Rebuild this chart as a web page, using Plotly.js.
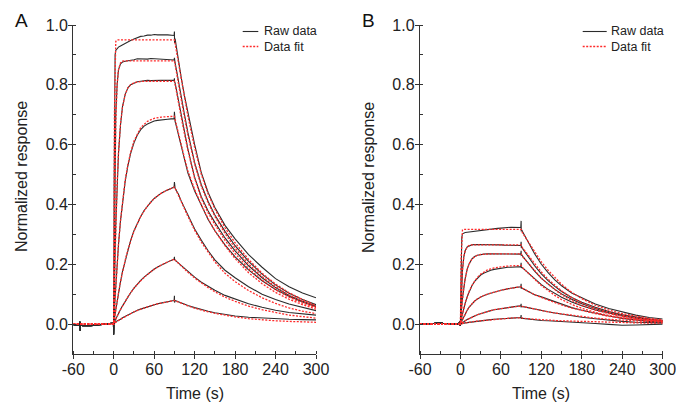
<!DOCTYPE html>
<html>
<head>
<meta charset="utf-8">
<script src="https://cdn.plot.ly/plotly-3.0.1.min.js"></script>
<style>html,body{margin:0;padding:0;background:#fff;}#chart{width:676px;height:404px;}</style>
</head>
<body>
<div id="chart"></div>
<script>
// ---------- time grids (s) ----------
const tBase  = [-60,-56,-52,-50,-49.8,-49.6,-46,-42,-38,-34,-30,-26,-22,-18,-14,-10,-6,-3,-0.4,-0.2,0];
const tAs    = [0.5,1,2,3,5,7,10,13,17,21,25,30,35,40,45,50,55,60,65,70,75,80,85,89.5];
const tDs    = [90,90.2,91,93,96,100,105,110,120,130,140,150,165,180,200,220,240,260,280,300];
const tFitAs = [0,1,2,3,5,7,10,13,17,21,25,30,40,50,60,70,80,90];
const tFitDs = [92,95,100,105,110,120,130,140,150,165,180,200,220,240,260,280,300];

// ---------- baselines ----------
const baseA = [-0.002,-0.003,-0.004,0.008,-0.022,-0.004,-0.005,-0.006,-0.005,-0.005,-0.004,-0.003,-0.003,-0.002,-0.001,0.0,0.001,0.002,0.003,-0.035,0.012];
const baseB = [0.0,-0.001,0.0,0.001,0.0,0.001,0.002,0.001,0.003,0.004,0.005,0.003,0.002,0.001,0.0,-0.001,0.0,0.001,0.008,-0.006,0.004];

// ---------- Panel A raw: association ----------
const rawA1as = [0.45,0.8,0.9,0.915,0.922,0.926,0.93,0.934,0.939,0.943,0.948,0.953,0.958,0.962,0.963,0.966,0.966,0.968,0.967,0.968,0.967,0.967,0.966,0.965];
const rawA2as = [0.17,0.32,0.55,0.7,0.8,0.85,0.87,0.876,0.879,0.88,0.882,0.884,0.887,0.886,0.887,0.886,0.888,0.887,0.886,0.885,0.886,0.885,0.884,0.883];
const rawA3as = [0.07,0.13,0.24,0.33,0.47,0.57,0.665,0.728,0.768,0.79,0.8,0.806,0.81,0.812,0.814,0.815,0.814,0.815,0.816,0.815,0.815,0.814,0.815,0.815];
const rawA4as = [0.02,0.045,0.09,0.13,0.2,0.265,0.345,0.41,0.478,0.53,0.57,0.606,0.632,0.65,0.662,0.669,0.675,0.679,0.681,0.683,0.684,0.685,0.686,0.686];
const rawA5as = [0.01,0.018,0.034,0.049,0.077,0.105,0.141,0.176,0.214,0.248,0.279,0.312,0.338,0.36,0.38,0.396,0.408,0.42,0.43,0.437,0.443,0.449,0.454,0.458];
const rawA6as = [0.006,0.008,0.012,0.017,0.027,0.036,0.049,0.061,0.077,0.091,0.105,0.12,0.134,0.146,0.157,0.167,0.176,0.184,0.191,0.197,0.203,0.208,0.213,0.217];
const rawA7as = [0.005,0.006,0.007,0.008,0.01,0.012,0.016,0.021,0.026,0.031,0.035,0.041,0.046,0.05,0.054,0.058,0.062,0.065,0.068,0.07,0.073,0.075,0.077,0.079];
// ---------- Panel A raw: dissociation ----------
const rawA1ds = [0.978,0.94,0.955,0.925,0.88,0.825,0.762,0.705,0.6,0.505,0.44,0.39,0.33,0.285,0.232,0.19,0.152,0.125,0.104,0.088];
const rawA2ds = [0.89,0.875,0.873,0.85,0.81,0.76,0.7,0.64,0.54,0.465,0.41,0.365,0.31,0.262,0.21,0.167,0.131,0.103,0.082,0.065];
const rawA3ds = [0.822,0.81,0.806,0.782,0.745,0.695,0.638,0.585,0.49,0.425,0.378,0.34,0.288,0.245,0.195,0.155,0.122,0.096,0.076,0.06];
const rawA4ds = [0.71,0.684,0.678,0.66,0.632,0.592,0.548,0.505,0.445,0.395,0.35,0.312,0.265,0.225,0.181,0.145,0.116,0.093,0.074,0.058];
const rawA5ds = [0.475,0.456,0.454,0.446,0.434,0.412,0.387,0.362,0.318,0.28,0.245,0.215,0.18,0.155,0.125,0.1,0.082,0.067,0.055,0.045];
const rawA6ds = [0.225,0.215,0.214,0.21,0.205,0.196,0.185,0.175,0.157,0.14,0.126,0.113,0.096,0.083,0.068,0.056,0.046,0.039,0.034,0.03];
const rawA7ds = [0.095,0.072,0.079,0.077,0.074,0.07,0.066,0.062,0.055,0.048,0.043,0.038,0.032,0.027,0.023,0.02,0.018,0.016,0.015,0.014];

// ---------- Panel A fit ----------
const fitA1as = [0,0.7,0.92,0.945,0.95,0.95,0.95,0.95,0.95,0.95,0.95,0.95,0.95,0.95,0.95,0.95,0.95,0.95];
const fitA2as = [0,0.3,0.52,0.67,0.8,0.85,0.873,0.879,0.88,0.88,0.88,0.88,0.88,0.88,0.88,0.88,0.88,0.88];
const fitA3as = [0,0.13,0.23,0.33,0.47,0.57,0.67,0.725,0.768,0.79,0.8,0.807,0.811,0.812,0.812,0.812,0.812,0.812];
const fitA4as = [0,0.046,0.09,0.13,0.2,0.265,0.345,0.412,0.482,0.533,0.574,0.612,0.657,0.678,0.688,0.692,0.694,0.695];
const fitA5as = [0,0.016,0.033,0.049,0.077,0.104,0.141,0.175,0.214,0.249,0.279,0.311,0.36,0.395,0.42,0.437,0.449,0.458];
const fitA6as = [0,0.005,0.011,0.016,0.026,0.036,0.048,0.061,0.077,0.091,0.104,0.12,0.145,0.166,0.183,0.197,0.208,0.217];
const fitA7as = [0,0.002,0.004,0.005,0.0085,0.012,0.016,0.021,0.026,0.031,0.035,0.041,0.05,0.058,0.065,0.07,0.075,0.079];
const fitA1ds = [0.925,0.885,0.82,0.755,0.695,0.59,0.5,0.435,0.385,0.322,0.272,0.216,0.17,0.134,0.105,0.082,0.062];
const fitA2ds = [0.855,0.81,0.752,0.69,0.632,0.535,0.46,0.405,0.36,0.303,0.254,0.201,0.159,0.125,0.097,0.076,0.058];
const fitA3ds = [0.79,0.748,0.692,0.635,0.58,0.487,0.42,0.372,0.333,0.28,0.236,0.186,0.147,0.115,0.09,0.07,0.055];
const fitA4ds = [0.675,0.645,0.6,0.555,0.512,0.45,0.398,0.352,0.312,0.262,0.219,0.172,0.135,0.106,0.083,0.065,0.05];
const fitA5ds = [0.45,0.436,0.412,0.385,0.36,0.314,0.274,0.239,0.208,0.17,0.142,0.112,0.088,0.069,0.054,0.043,0.035];
const fitA6ds = [0.212,0.205,0.194,0.183,0.173,0.154,0.137,0.122,0.108,0.09,0.076,0.06,0.048,0.038,0.03,0.025,0.02];
const fitA7ds = [0.077,0.074,0.069,0.065,0.061,0.053,0.046,0.041,0.036,0.029,0.024,0.018,0.014,0.011,0.009,0.007,0.006];

// ---------- Panel B raw ----------
const rawB1as = [0.1,0.2,0.29,0.302,0.305,0.306,0.307,0.308,0.309,0.31,0.312,0.313,0.315,0.316,0.318,0.319,0.32,0.321,0.323,0.323,0.324,0.323,0.323,0.323];
const rawB2as = [0.04,0.08,0.14,0.18,0.225,0.245,0.258,0.262,0.265,0.266,0.266,0.267,0.266,0.266,0.265,0.266,0.265,0.265,0.264,0.264,0.264,0.263,0.263,0.263];
const rawB3as = [0.018,0.034,0.062,0.086,0.124,0.152,0.183,0.202,0.218,0.226,0.23,0.233,0.234,0.235,0.235,0.234,0.235,0.235,0.234,0.235,0.234,0.234,0.234,0.234];
const rawB4as = [0.006,0.012,0.024,0.034,0.053,0.07,0.092,0.11,0.128,0.143,0.154,0.164,0.171,0.176,0.18,0.183,0.185,0.187,0.188,0.19,0.19,0.191,0.192,0.192];
const rawB5as = [0.003,0.005,0.01,0.015,0.025,0.034,0.046,0.057,0.068,0.077,0.084,0.091,0.096,0.1,0.104,0.107,0.11,0.113,0.116,0.118,0.12,0.122,0.124,0.125];
const rawB6as = [0.002,0.002,0.003,0.005,0.008,0.011,0.015,0.019,0.023,0.027,0.031,0.035,0.039,0.042,0.045,0.048,0.05,0.052,0.054,0.056,0.057,0.058,0.06,0.061];
const rawB7as = [0.002,0.001,0.001,0.002,0.003,0.004,0.005,0.006,0.007,0.009,0.01,0.011,0.012,0.014,0.015,0.016,0.017,0.018,0.019,0.02,0.02,0.021,0.021,0.022];
const rawB1ds = [0.345,0.31,0.315,0.305,0.292,0.275,0.253,0.235,0.2,0.172,0.148,0.128,0.104,0.087,0.067,0.052,0.04,0.03,0.022,0.017];
const rawB2ds = [0.275,0.255,0.257,0.25,0.24,0.227,0.21,0.195,0.168,0.145,0.126,0.109,0.089,0.073,0.056,0.042,0.031,0.023,0.017,0.012];
const rawB3ds = [0.245,0.23,0.231,0.225,0.216,0.205,0.19,0.177,0.153,0.133,0.116,0.101,0.083,0.068,0.052,0.039,0.029,0.021,0.015,0.01];
const rawB4ds = [0.205,0.188,0.19,0.186,0.18,0.172,0.161,0.151,0.132,0.116,0.102,0.09,0.074,0.061,0.047,0.036,0.027,0.02,0.014,0.01];
const rawB5ds = [0.135,0.12,0.121,0.118,0.114,0.109,0.103,0.098,0.091,0.083,0.075,0.066,0.055,0.046,0.036,0.027,0.019,0.013,0.009,0.006];
const rawB6ds = [0.068,0.058,0.059,0.058,0.056,0.054,0.051,0.049,0.045,0.041,0.037,0.033,0.028,0.023,0.018,0.013,0.009,0.006,0.004,0.004];
const rawB7ds = [0.03,0.018,0.02,0.019,0.018,0.017,0.016,0.014,0.012,0.011,0.01,0.009,0.007,0.005,0.002,-0.001,-0.004,-0.003,-0.001,0.0];

// ---------- Panel B fit ----------
const fitB1as = [0,0.22,0.305,0.315,0.317,0.317,0.317,0.317,0.317,0.317,0.317,0.317,0.317,0.317,0.317,0.317,0.317,0.317];
const fitB2as = [0,0.08,0.14,0.18,0.225,0.245,0.258,0.263,0.265,0.265,0.265,0.265,0.265,0.265,0.265,0.265,0.265,0.265];
const fitB3as = [0,0.034,0.062,0.086,0.124,0.152,0.183,0.202,0.217,0.225,0.23,0.233,0.235,0.235,0.235,0.235,0.235,0.235];
const fitB4as = [0,0.012,0.024,0.034,0.053,0.07,0.092,0.11,0.129,0.144,0.156,0.167,0.181,0.188,0.192,0.194,0.195,0.196];
const fitB5as = [0,0.005,0.01,0.015,0.025,0.034,0.046,0.057,0.068,0.077,0.084,0.091,0.1,0.107,0.113,0.118,0.122,0.125];
const fitB6as = [0,0.002,0.003,0.005,0.008,0.011,0.015,0.019,0.023,0.027,0.031,0.035,0.042,0.048,0.052,0.056,0.058,0.06];
const fitB7as = [0,0.001,0.001,0.002,0.003,0.004,0.005,0.006,0.007,0.009,0.01,0.011,0.014,0.016,0.018,0.02,0.021,0.021];
const fitB1ds = [0.305,0.295,0.278,0.26,0.242,0.208,0.18,0.155,0.133,0.106,0.085,0.063,0.047,0.035,0.026,0.019,0.014];
const fitB2ds = [0.255,0.246,0.232,0.217,0.202,0.174,0.15,0.129,0.111,0.089,0.071,0.053,0.039,0.029,0.021,0.016,0.012];
const fitB3ds = [0.226,0.218,0.206,0.193,0.179,0.154,0.133,0.115,0.098,0.079,0.063,0.047,0.035,0.026,0.019,0.014,0.01];
const fitB4ds = [0.189,0.182,0.172,0.161,0.15,0.129,0.111,0.096,0.082,0.066,0.053,0.039,0.029,0.021,0.016,0.012,0.009];
const fitB5ds = [0.12,0.116,0.11,0.104,0.098,0.089,0.08,0.072,0.064,0.054,0.045,0.035,0.026,0.02,0.015,0.011,0.008];
const fitB6ds = [0.059,0.057,0.055,0.052,0.049,0.045,0.041,0.037,0.034,0.029,0.025,0.02,0.016,0.013,0.01,0.008,0.007];
const fitB7ds = [0.02,0.019,0.018,0.017,0.016,0.015,0.013,0.012,0.011,0.01,0.008,0.007,0.006,0.005,0.004,0.003,0.003];

// ---------- labels ----------
const xTicks = [-60,0,60,120,180,240,300];
const legendLabels = ['Raw data','Data fit'];
const panelLabels = ['A','B'];
const xTitle = 'Time (s)';
const yTitle = 'Normalized response';

// ---------- build traces ----------
const RAW_COLOR = '#2b2b2b', FIT_COLOR = '#ff2a2a';
const panels = [
  {xa:'x', ya:'y', base: baseA,
   raw: [[rawA1as,rawA1ds],[rawA2as,rawA2ds],[rawA3as,rawA3ds],[rawA4as,rawA4ds],[rawA5as,rawA5ds],[rawA6as,rawA6ds],[rawA7as,rawA7ds]],
   fit: [[fitA1as,fitA1ds],[fitA2as,fitA2ds],[fitA3as,fitA3ds],[fitA4as,fitA4ds],[fitA5as,fitA5ds],[fitA6as,fitA6ds],[fitA7as,fitA7ds]]},
  {xa:'x2', ya:'y2', base: baseB,
   raw: [[rawB1as,rawB1ds],[rawB2as,rawB2ds],[rawB3as,rawB3ds],[rawB4as,rawB4ds],[rawB5as,rawB5ds],[rawB6as,rawB6ds],[rawB7as,rawB7ds]],
   fit: [[fitB1as,fitB1ds],[fitB2as,fitB2ds],[fitB3as,fitB3ds],[fitB4as,fitB4ds],[fitB5as,fitB5ds],[fitB6as,fitB6ds],[fitB7as,fitB7ds]]}
];
const traces = [];
panels.forEach(p => {
  p.raw.forEach(r => {
    traces.push({type:'scatter', mode:'lines', xaxis:p.xa, yaxis:p.ya, showlegend:false, hoverinfo:'skip',
      x: tBase.concat(tAs, tDs), y: p.base.concat(r[0], r[1]),
      line:{color:RAW_COLOR, width:1.1}});
  });
});
panels.forEach(p => {
  p.fit.forEach(f => {
    traces.push({type:'scatter', mode:'lines', xaxis:p.xa, yaxis:p.ya, showlegend:false, hoverinfo:'skip',
      x: [-60].concat(tFitAs, tFitDs), y: [0].concat(f[0], f[1]),
      line:{color:FIT_COLOR, width:1.3, dash:'2px,1.5px'}});
  });
});

// ---------- layout ----------
const W = 676, H = 404;
const px = v => v / W, py = v => 1 - v / H;
const FONT = 'Liberation Sans, Arial, Helvetica, sans-serif';
function xax(dom, anchor) {
  return {domain: dom, anchor: anchor, range: [-60, 300], tickvals: xTicks, ticktext: xTicks.map(String),
    ticks:'outside', ticklen:4, tickwidth:1, tickcolor:'#333', showline:true, linecolor:'#333', linewidth:1.2,
    showgrid:false, zeroline:false, tickfont:{family:FONT, size:16, color:'#222'},
    ticklabeloverflow:'allow', ticklabelstandoff:-3,
    minor:{ticks:'inside', ticklen:3, dtick:30, tick0:0, tickcolor:'#333', showgrid:false}, fixedrange:true};
}
function yax(anchor) {
  return {domain:[1-354/H, 1-25/H], anchor: anchor, range:[-0.1, 1.0], tick0:0, dtick:0.2, tickformat:'.1f',
    ticks:'outside', ticklen:4, tickwidth:1, tickcolor:'#333', showline:true, linecolor:'#333', linewidth:1.2,
    showgrid:false, zeroline:false, tickfont:{family:FONT, size:16, color:'#222'},
    ticklabeloverflow:'allow', ticklabelstandoff:-3,
    minor:{ticks:'inside', ticklen:3, dtick:0.1, tick0:0, tickcolor:'#333', showgrid:false}, fixedrange:true};
}
const annotations = [];
const shapes = [];
const panelGeo = [
  {left:73.3, right:316, letterX:21, yTitleX:22, legLine:[242.7,258.3], legText:263.3},
  {left:420, right:662.7, letterX:368, yTitleX:369, legLine:[582.7,606.7], legText:610}
];
const legRows = [31.5, 46.5];
panelGeo.forEach((g, i) => {
  annotations.push({xref:'paper', yref:'paper', x:px(g.letterX), y:py(20), text:panelLabels[i], showarrow:false,
    font:{family:FONT, size:19, color:'#111'}, xanchor:'center', yanchor:'middle'});
  annotations.push({xref:'paper', yref:'paper', x:px(g.yTitleX), y:py(177), text:yTitle, textangle:-90, showarrow:false,
    font:{family:FONT, size:16, color:'#222'}, xanchor:'center', yanchor:'middle'});
  annotations.push({xref:'paper', yref:'paper', x:px((g.left+g.right)/2), y:py(393), text:xTitle, showarrow:false,
    font:{family:FONT, size:16, color:'#222'}, xanchor:'center', yanchor:'middle'});
  legRows.forEach((yy, k) => {
    shapes.push({type:'line', xref:'paper', yref:'paper', x0:px(g.legLine[0]), x1:px(g.legLine[1]), y0:py(yy), y1:py(yy),
      line: k === 0 ? {color:RAW_COLOR, width:1.1} : {color:FIT_COLOR, width:1.3, dash:'2px,1.5px'}});
    annotations.push({xref:'paper', yref:'paper', x:px(g.legText), y:py(yy), text:legendLabels[k], showarrow:false,
      font:{family:FONT, size:12.5, color:'#222'}, xanchor:'left', yanchor:'middle', borderpad:0});
  });
});

const layout = {
  width: W, height: H, margin:{l:0, r:0, t:0, b:0}, paper_bgcolor:'#fff', plot_bgcolor:'#fff',
  showlegend:false,
  xaxis: xax([73.3/W, 316/W], 'y'),
  yaxis: yax('x'),
  xaxis2: xax([420/W, 662.7/W], 'y2'),
  yaxis2: yax('x2'),
  annotations: annotations, shapes: shapes
};
Plotly.newPlot('chart', traces, layout, {displayModeBar:false, staticPlot:true});
</script>
</body>
</html>
